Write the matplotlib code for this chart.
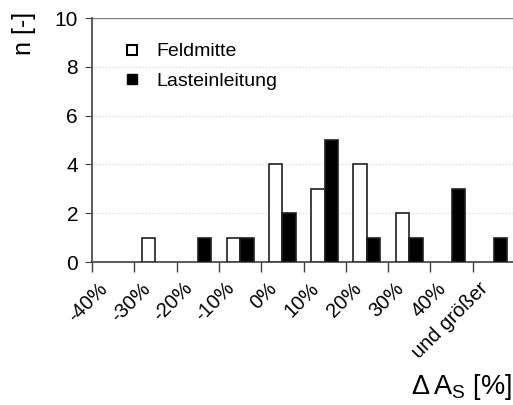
import matplotlib
matplotlib.use("Agg")
import matplotlib.pyplot as plt
from matplotlib.lines import Line2D
import matplotlib.transforms as mtransforms
import numpy as np

categories = ["-40%", "-30%", "-20%", "-10%", "0%", "10%", "20%", "30%", "40%", "und größer"]
feldmitte = [0, 1, 0, 1, 4, 3, 4, 2, 0, 0]
lasteinleitung = [0, 0, 1, 1, 2, 5, 1, 1, 3, 1]

plt.rcParams['font.family'] = ['Liberation Sans', 'DejaVu Sans']
plt.rcParams['mathtext.fontset'] = 'custom'
plt.rcParams['mathtext.rm'] = 'Liberation Sans'

fig = plt.figure(figsize=(5.13, 4.05), dpi=100)
ax = fig.add_axes([92/513, (405-262)/405, (515-92)/513, 244/405])

x = np.arange(len(categories))
w = 0.32
edge = '#202020'
fm = np.array(feldmitte, dtype=float)
le = np.array(lasteinleitung, dtype=float)
mf = fm > 0
ml = le > 0
ax.bar(x[mf] - w/2, fm[mf], width=w, color='white', edgecolor=edge, linewidth=1.2, zorder=3)
ax.bar(x[ml] + w/2, le[ml], width=w, color='black', edgecolor=edge, linewidth=1.2, zorder=3)

ax.set_xlim(-0.5, len(categories) - 0.5)
ax.set_ylim(0, 10)
ax.set_yticks([0, 2, 4, 6, 8, 10])
ax.tick_params(axis='y', labelsize=15, length=5, color='#404040', pad=5)
for yv in [2, 4, 6, 8]:
    ax.axhline(yv, color='#d0d0d0', linestyle=(0, (1, 2)), linewidth=0.8, zorder=1)
ax.axhline(10, color='#808080', linewidth=1.0, zorder=1)

ax.set_xticks(np.arange(-0.5, len(categories) - 0.5, 1.0))
ax.set_xticklabels([])
ax.tick_params(axis='x', which='major', length=7, color='#404040', width=1)
ax.set_xticks(x, minor=True)
ax.set_xticklabels(categories, minor=True, rotation=45, ha='right', rotation_mode='anchor', fontsize=14.5)
ax.tick_params(axis='x', which='minor', length=0, pad=12)
offset = mtransforms.ScaledTranslation(-15/100, 0, fig.dpi_scale_trans)
for lab in ax.get_xticklabels(minor=True):
    lab.set_transform(lab.get_transform() + offset)

for s in ['top', 'right']:
    ax.spines[s].set_visible(False)
for s in ['left', 'bottom']:
    ax.spines[s].set_color('#404040')
    ax.spines[s].set_linewidth(1.2)

fig.text(24/513, 1 - 33/405, "n [-]", rotation=90, fontsize=18, ha='center', va='center')
fig.text(512/513, 1 - 387/405, r"$\Delta\,\mathrm{A_S}$ [%]", fontsize=19.5, ha='right', va='center')

handles = [Line2D([0], [0], marker='s', linestyle='none', markerfacecolor='white', markeredgecolor='black', markersize=7, markeredgewidth=1.5),
           Line2D([0], [0], marker='s', linestyle='none', markerfacecolor='black', markeredgecolor='black', markersize=7)]
ax.legend(handles, ["Feldmitte", "Lasteinleitung"], loc='upper left', bbox_to_anchor=(0.03, 0.97),
          frameon=False, fontsize=14, handletextpad=0.75, labelspacing=0.6, handlelength=1)

fig.savefig("out.png", dpi=100)
